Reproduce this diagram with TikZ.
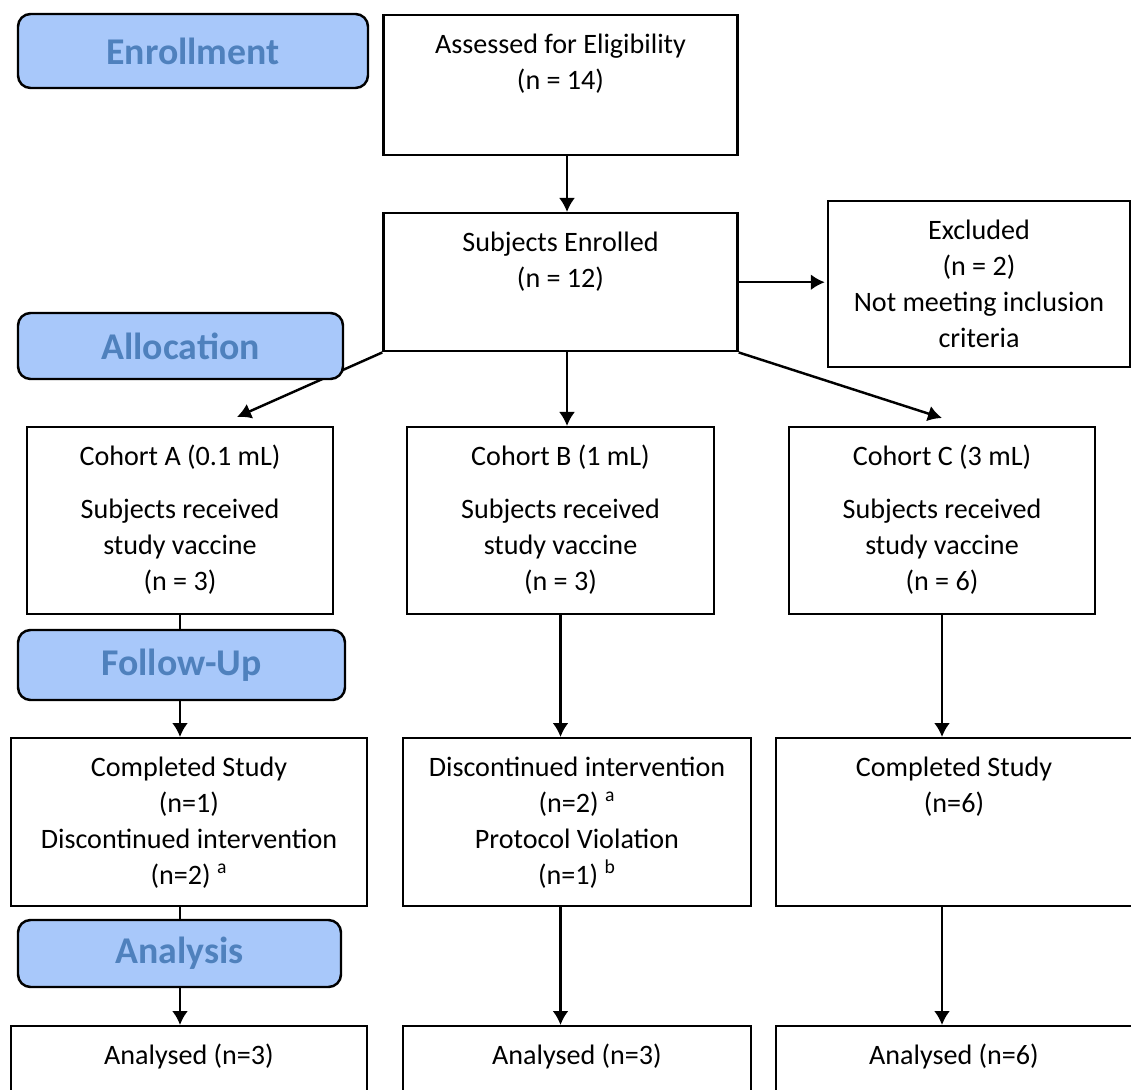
\documentclass[tikz,border=0pt]{standalone}
\usepackage{fontspec}
\setmainfont{Carlito}
\usetikzlibrary{arrows.meta}
\definecolor{stagefill}{RGB}{168,200,250}
\definecolor{stagetext}{RGB}{79,129,189}
\tikzset{%
  >={Latex[width=3.2mm,length=2.8mm]},
  % Specifications for style of nodes:
            base/.style = {rectangle, draw=black, line width=1.4pt,
                           align=center, font=\fontsize{16}{20.5}\selectfont},
           panel/.style = {base, anchor=north, inner ysep=0.34cm},
           stage/.style = {base, rounded corners=0.25cm, fill=stagefill,
                           text=stagetext, font=\fontsize{21.5}{24}\selectfont\bfseries},
}

\begin{document}
\begin{tikzpicture}[line width=1.4pt]
  \useasboundingbox (0,0) rectangle (22.62,-21.8);
  \clip (0,0) rectangle (22.62,-21.8);
  % Specification of nodes (position, etc.)

  \node (assessed)   [panel, minimum width=7.08cm, text height=1.14cm, text depth=0.98cm] at (11.21,-0.28)  {Assessed for Eligibility\\(n = 14)};
  \node (enrolled)   [panel, minimum width=7.08cm, text height=1.14cm, text depth=0.94cm] at (11.21,-4.24)  {Subjects Enrolled\\(n = 12)};
  \node (excluded)   [panel, minimum width=6.04cm, text height=2.58cm, text depth=0.06cm] at (19.58,-4.00)  {Excluded\\(n = 2)\\Not meeting inclusion\\criteria};

  \node (cohortA)    [panel, minimum width=6.12cm, text height=2.92cm, text depth=0.14cm] at (3.60,-8.52)   {Cohort A (0.1 mL)\\[0.34cm]Subjects received\\study vaccine\\(n = 3)};
  \node (cohortB)    [panel, minimum width=6.14cm, text height=2.92cm, text depth=0.14cm] at (11.21,-8.52)  {Cohort B (1 mL)\\[0.34cm]Subjects received\\study vaccine\\(n = 3)};
  \node (cohortC)    [panel, minimum width=6.12cm, text height=2.92cm, text depth=0.14cm] at (18.84,-8.52)  {Cohort C (3 mL)\\[0.34cm]Subjects received\\study vaccine\\(n = 6)};

  \node (doneA)      [panel, minimum width=7.12cm, text height=2.58cm, text depth=0.10cm] at (3.78,-14.74)  {Completed Study\\(n=1)\\Discontinued intervention\\(n=2) \textsuperscript{a}};
  \node (doneB)      [panel, minimum width=6.96cm, text height=2.58cm, text depth=0.10cm] at (11.54,-14.74) {Discontinued intervention\\(n=2) \textsuperscript{a}\\Protocol Violation\\(n=1) \textsuperscript{b}};
  \node (doneC)      [panel, minimum width=7.12cm, text height=1.14cm, text depth=1.54cm] at (19.08,-14.74) {Completed Study\\(n=6)};

  \node (analysedA)  [panel, minimum width=7.12cm, text height=0.42cm, text depth=2.26cm] at (3.78,-20.50)  {Analysed (n=3)};
  \node (analysedB)  [panel, minimum width=6.96cm, text height=0.42cm, text depth=2.26cm] at (11.54,-20.50) {Analysed (n=3)};
  \node (analysedC)  [panel, minimum width=7.12cm, text height=0.42cm, text depth=2.26cm] at (19.08,-20.50) {Analysed (n=6)};

  \draw[->]  ([xshift=0.13cm]assessed.south) -- ([xshift=0.13cm]enrolled.north);
  \draw[->]  (enrolled.east) -- ([xshift=-0.04cm]enrolled.east -| excluded.west);
  \draw[->]  (enrolled.south west) -- ([xshift=1.14cm,yshift=0.18cm]cohortA.north);
  \draw[->]  ([xshift=0.13cm]enrolled.south) -- ([xshift=0.13cm]cohortB.north);
  \draw[->]  (enrolled.south east) -- ([yshift=0.16cm]cohortC.north);

  \draw[->]  (cohortA.south) -- (cohortA.south |- doneA.north);
  \draw[->]  (cohortB.south) -- (cohortB.south |- doneB.north);
  \draw[->]  (cohortC.south) -- (cohortC.south |- doneC.north);

  \draw[->]  (cohortA.south |- doneA.south) -- (cohortA.south |- analysedA.north);
  \draw[->]  (cohortB.south |- doneB.south) -- (cohortB.south |- analysedB.north);
  \draw[->]  (cohortC.south |- doneC.south) -- (cohortC.south |- analysedC.north);

  % stage labels sit over the lines
  \node (enrollment) [stage, minimum width=7.00cm, minimum height=1.48cm] at (3.86,-1.02)  {Enrollment};
  \node (allocation) [stage, minimum width=6.50cm, minimum height=1.32cm] at (3.61,-6.92)  {Allocation};
  \node (followup)   [stage, minimum width=6.54cm, minimum height=1.40cm] at (3.63,-13.30) {Follow-Up};
  \node (analysis)   [stage, minimum width=6.46cm, minimum height=1.34cm] at (3.59,-19.07) {Analysis};

\end{tikzpicture}
\end{document}
